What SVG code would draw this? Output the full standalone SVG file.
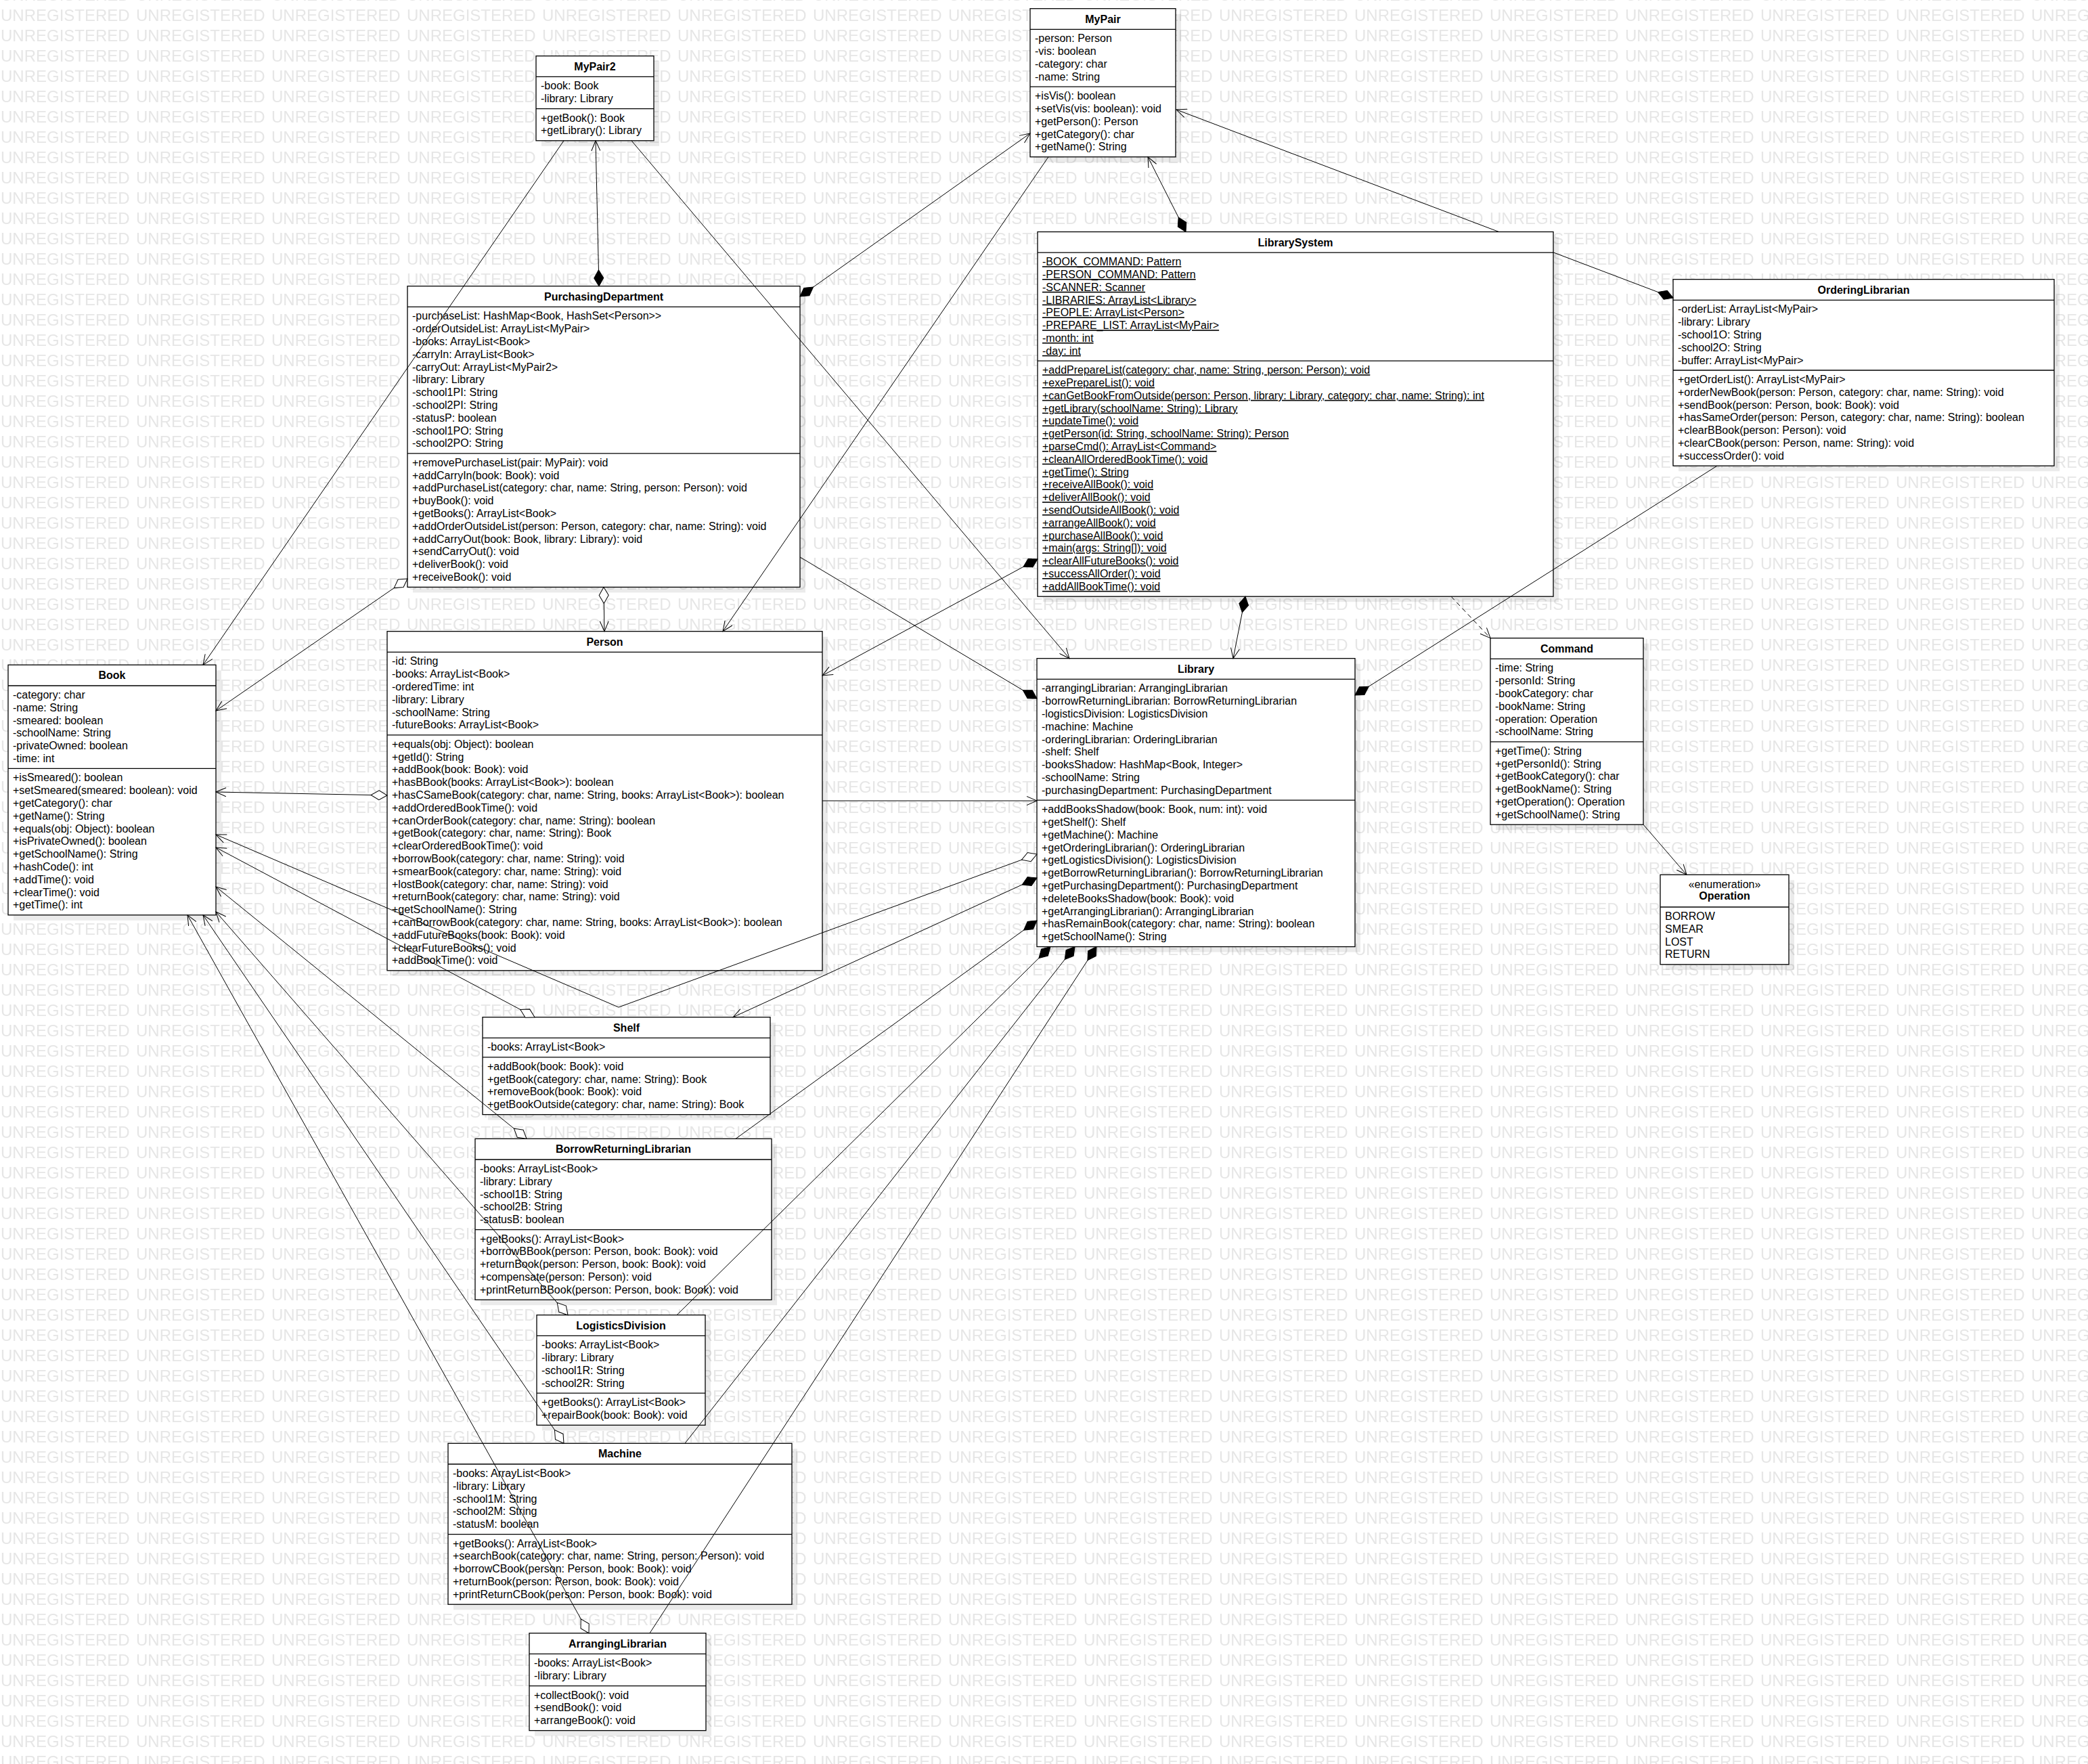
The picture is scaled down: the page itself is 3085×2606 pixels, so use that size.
<svg xmlns="http://www.w3.org/2000/svg" width="3085" height="2606" viewBox="0 0 3085 2606">
<style>
.box{fill:#fff;stroke:#000;stroke-width:1.3}
.sh{fill:#000;fill-opacity:0.08}
.dv{fill:none;stroke:#000;stroke-width:1.3}
.t{font-family:"Liberation Sans",Arial,sans-serif;font-size:16px;fill:#000}
.n{font-weight:bold;text-anchor:middle}
.m{text-anchor:middle}
.u{text-decoration:underline}
.c{fill:none;stroke:#000;stroke-width:1}
.d{stroke-dasharray:7 5}
</style>
<defs>
<pattern id="wm" patternUnits="userSpaceOnUse" x="0" y="1" width="200" height="30"><text x="1" y="30" font-family="Liberation Sans, Arial, sans-serif" font-size="24" fill="#e6e6e6">UNREGISTERED</text></pattern>
<marker id="ar" viewBox="0 0 17 14" refX="16" refY="7" markerWidth="17" markerHeight="14" orient="auto" markerUnits="userSpaceOnUse"><path d="M1,0.5 L16,7 L1,13.5" fill="none" stroke="#000" stroke-width="1"/></marker>
<marker id="df" viewBox="-1 -1 27 16" refX="0" refY="7" markerWidth="27" markerHeight="16" orient="auto" markerUnits="userSpaceOnUse"><path d="M0,7 L12,0 L24,7 L12,14 Z" fill="#000" stroke="#000" stroke-width="1"/></marker>
<marker id="dh" viewBox="-1 -1 27 16" refX="0" refY="7" markerWidth="27" markerHeight="16" orient="auto" markerUnits="userSpaceOnUse"><path d="M0,7 L12,0 L24,7 L12,14 Z" fill="#fff" stroke="#000" stroke-width="1"/></marker>
</defs>
<rect width="3085" height="2606" fill="#fff"/>
<rect width="3085" height="2606" fill="url(#wm)"/>

<g id="MyPair2">
<rect class="sh" x="800" y="90.7" width="174" height="125.1"/>
<rect class="box" x="792" y="82.7" width="174" height="125.1"/>
<path class="dv" d="M792,113.4H966M792,160.6H966"/>
<text class="t n" x="879" y="103.7">MyPair2</text>
<text class="t"><tspan x="799" y="132.4">-book: Book</tspan><tspan x="799" dy="18.8">-library: Library</tspan></text>
<text class="t"><tspan x="799" y="179.6">+getBook(): Book</tspan><tspan x="799" dy="18.8">+getLibrary(): Library</tspan></text>
</g>

<g id="MyPair">
<rect class="sh" x="1530" y="20.7" width="215" height="219.1"/>
<rect class="box" x="1522" y="12.7" width="215" height="219.1"/>
<path class="dv" d="M1522,43.4H1737M1522,128.2H1737"/>
<text class="t n" x="1629.5" y="33.7">MyPair</text>
<text class="t"><tspan x="1529" y="62.4">-person: Person</tspan><tspan x="1529" dy="18.8">-vis: boolean</tspan><tspan x="1529" dy="18.8">-category: char</tspan><tspan x="1529" dy="18.8">-name: String</tspan></text>
<text class="t"><tspan x="1529" y="147.2">+isVis(): boolean</tspan><tspan x="1529" dy="18.8">+setVis(vis: boolean): void</tspan><tspan x="1529" dy="18.8">+getPerson(): Person</tspan><tspan x="1529" dy="18.8">+getCategory(): char</tspan><tspan x="1529" dy="18.8">+getName(): String</tspan></text>
</g>

<g id="PurchasingDepartment">
<rect class="sh" x="610" y="430.7" width="580" height="444.7"/>
<rect class="box" x="602" y="422.7" width="580" height="444.7"/>
<path class="dv" d="M602,453.4H1182M602,669.8H1182"/>
<text class="t n" x="892" y="443.7">PurchasingDepartment</text>
<text class="t"><tspan x="609" y="472.4">-purchaseList: HashMap&lt;Book, HashSet&lt;Person&gt;&gt;</tspan><tspan x="609" dy="18.8">-orderOutsideList: ArrayList&lt;MyPair&gt;</tspan><tspan x="609" dy="18.8">-books: ArrayList&lt;Book&gt;</tspan><tspan x="609" dy="18.8">-carryIn: ArrayList&lt;Book&gt;</tspan><tspan x="609" dy="18.8">-carryOut: ArrayList&lt;MyPair2&gt;</tspan><tspan x="609" dy="18.8">-library: Library</tspan><tspan x="609" dy="18.8">-school1PI: String</tspan><tspan x="609" dy="18.8">-school2PI: String</tspan><tspan x="609" dy="18.8">-statusP: boolean</tspan><tspan x="609" dy="18.8">-school1PO: String</tspan><tspan x="609" dy="18.8">-school2PO: String</tspan></text>
<text class="t"><tspan x="609" y="688.8">+removePurchaseList(pair: MyPair): void</tspan><tspan x="609" dy="18.8">+addCarryIn(book: Book): void</tspan><tspan x="609" dy="18.8">+addPurchaseList(category: char, name: String, person: Person): void</tspan><tspan x="609" dy="18.8">+buyBook(): void</tspan><tspan x="609" dy="18.8">+getBooks(): ArrayList&lt;Book&gt;</tspan><tspan x="609" dy="18.8">+addOrderOutsideList(person: Person, category: char, name: String): void</tspan><tspan x="609" dy="18.8">+addCarryOut(book: Book, library: Library): void</tspan><tspan x="609" dy="18.8">+sendCarryOut(): void</tspan><tspan x="609" dy="18.8">+deliverBook(): void</tspan><tspan x="609" dy="18.8">+receiveBook(): void</tspan></text>
</g>

<g id="LibrarySystem">
<rect class="sh" x="1541" y="350.5" width="762" height="538.7"/>
<rect class="box" x="1533" y="342.5" width="762" height="538.7"/>
<path class="dv" d="M1533,373.2H2295M1533,533.2H2295"/>
<text class="t n" x="1914" y="363.5">LibrarySystem</text>
<text class="t u"><tspan x="1540" y="392.2">-BOOK_COMMAND: Pattern</tspan><tspan x="1540" dy="18.8">-PERSON_COMMAND: Pattern</tspan><tspan x="1540" dy="18.8">-SCANNER: Scanner</tspan><tspan x="1540" dy="18.8">-LIBRARIES: ArrayList&lt;Library&gt;</tspan><tspan x="1540" dy="18.8">-PEOPLE: ArrayList&lt;Person&gt;</tspan><tspan x="1540" dy="18.8">-PREPARE_LIST: ArrayList&lt;MyPair&gt;</tspan><tspan x="1540" dy="18.8">-month: int</tspan><tspan x="1540" dy="18.8">-day: int</tspan></text>
<text class="t u"><tspan x="1540" y="552.2">+addPrepareList(category: char, name: String, person: Person): void</tspan><tspan x="1540" dy="18.8">+exePrepareList(): void</tspan><tspan x="1540" dy="18.8">+canGetBookFromOutside(person: Person, library: Library, category: char, name: String): int</tspan><tspan x="1540" dy="18.8">+getLibrary(schoolName: String): Library</tspan><tspan x="1540" dy="18.8">+updateTime(): void</tspan><tspan x="1540" dy="18.8">+getPerson(id: String, schoolName: String): Person</tspan><tspan x="1540" dy="18.8">+parseCmd(): ArrayList&lt;Command&gt;</tspan><tspan x="1540" dy="18.8">+cleanAllOrderedBookTime(): void</tspan><tspan x="1540" dy="18.8">+getTime(): String</tspan><tspan x="1540" dy="18.8">+receiveAllBook(): void</tspan><tspan x="1540" dy="18.8">+deliverAllBook(): void</tspan><tspan x="1540" dy="18.8">+sendOutsideAllBook(): void</tspan><tspan x="1540" dy="18.8">+arrangeAllBook(): void</tspan><tspan x="1540" dy="18.8">+purchaseAllBook(): void</tspan><tspan x="1540" dy="18.8">+main(args: String[]): void</tspan><tspan x="1540" dy="18.8">+clearAllFutureBooks(): void</tspan><tspan x="1540" dy="18.8">+successAllOrder(): void</tspan><tspan x="1540" dy="18.8">+addAllBookTime(): void</tspan></text>
</g>

<g id="OrderingLibrarian">
<rect class="sh" x="2480" y="420.7" width="563" height="275.5"/>
<rect class="box" x="2472" y="412.7" width="563" height="275.5"/>
<path class="dv" d="M2472,443.4H3035M2472,547H3035"/>
<text class="t n" x="2753.5" y="433.7">OrderingLibrarian</text>
<text class="t"><tspan x="2479" y="462.4">-orderList: ArrayList&lt;MyPair&gt;</tspan><tspan x="2479" dy="18.8">-library: Library</tspan><tspan x="2479" dy="18.8">-school1O: String</tspan><tspan x="2479" dy="18.8">-school2O: String</tspan><tspan x="2479" dy="18.8">-buffer: ArrayList&lt;MyPair&gt;</tspan></text>
<text class="t"><tspan x="2479" y="566">+getOrderList(): ArrayList&lt;MyPair&gt;</tspan><tspan x="2479" dy="18.8">+orderNewBook(person: Person, category: char, name: String): void</tspan><tspan x="2479" dy="18.8">+sendBook(person: Person, book: Book): void</tspan><tspan x="2479" dy="18.8">+hasSameOrder(person: Person, category: char, name: String): boolean</tspan><tspan x="2479" dy="18.8">+clearBBook(person: Person): void</tspan><tspan x="2479" dy="18.8">+clearCBook(person: Person, name: String): void</tspan><tspan x="2479" dy="18.8">+successOrder(): void</tspan></text>
</g>

<g id="Book">
<rect class="sh" x="20" y="990.3" width="307" height="369.5"/>
<rect class="box" x="12" y="982.3" width="307" height="369.5"/>
<path class="dv" d="M12,1013H319M12,1135.4H319"/>
<text class="t n" x="165.5" y="1003.3">Book</text>
<text class="t"><tspan x="19" y="1032">-category: char</tspan><tspan x="19" dy="18.8">-name: String</tspan><tspan x="19" dy="18.8">-smeared: boolean</tspan><tspan x="19" dy="18.8">-schoolName: String</tspan><tspan x="19" dy="18.8">-privateOwned: boolean</tspan><tspan x="19" dy="18.8">-time: int</tspan></text>
<text class="t"><tspan x="19" y="1154.4">+isSmeared(): boolean</tspan><tspan x="19" dy="18.8">+setSmeared(smeared: boolean): void</tspan><tspan x="19" dy="18.8">+getCategory(): char</tspan><tspan x="19" dy="18.8">+getName(): String</tspan><tspan x="19" dy="18.8">+equals(obj: Object): boolean</tspan><tspan x="19" dy="18.8">+isPrivateOwned(): boolean</tspan><tspan x="19" dy="18.8">+getSchoolName(): String</tspan><tspan x="19" dy="18.8">+hashCode(): int</tspan><tspan x="19" dy="18.8">+addTime(): void</tspan><tspan x="19" dy="18.8">+clearTime(): void</tspan><tspan x="19" dy="18.8">+getTime(): int</tspan></text>
</g>

<g id="Person">
<rect class="sh" x="580" y="940.7" width="643" height="501.1"/>
<rect class="box" x="572" y="932.7" width="643" height="501.1"/>
<path class="dv" d="M572,963.4H1215M572,1085.8H1215"/>
<text class="t n" x="893.5" y="953.7">Person</text>
<text class="t"><tspan x="579" y="982.4">-id: String</tspan><tspan x="579" dy="18.8">-books: ArrayList&lt;Book&gt;</tspan><tspan x="579" dy="18.8">-orderedTime: int</tspan><tspan x="579" dy="18.8">-library: Library</tspan><tspan x="579" dy="18.8">-schoolName: String</tspan><tspan x="579" dy="18.8">-futureBooks: ArrayList&lt;Book&gt;</tspan></text>
<text class="t"><tspan x="579" y="1104.8">+equals(obj: Object): boolean</tspan><tspan x="579" dy="18.8">+getId(): String</tspan><tspan x="579" dy="18.8">+addBook(book: Book): void</tspan><tspan x="579" dy="18.8">+hasBBook(books: ArrayList&lt;Book&gt;): boolean</tspan><tspan x="579" dy="18.8">+hasCSameBook(category: char, name: String, books: ArrayList&lt;Book&gt;): boolean</tspan><tspan x="579" dy="18.8">+addOrderedBookTime(): void</tspan><tspan x="579" dy="18.8">+canOrderBook(category: char, name: String): boolean</tspan><tspan x="579" dy="18.8">+getBook(category: char, name: String): Book</tspan><tspan x="579" dy="18.8">+clearOrderedBookTime(): void</tspan><tspan x="579" dy="18.8">+borrowBook(category: char, name: String): void</tspan><tspan x="579" dy="18.8">+smearBook(category: char, name: String): void</tspan><tspan x="579" dy="18.8">+lostBook(category: char, name: String): void</tspan><tspan x="579" dy="18.8">+returnBook(category: char, name: String): void</tspan><tspan x="579" dy="18.8">+getSchoolName(): String</tspan><tspan x="579" dy="18.8">+canBorrowBook(category: char, name: String, books: ArrayList&lt;Book&gt;): boolean</tspan><tspan x="579" dy="18.8">+addFutureBooks(book: Book): void</tspan><tspan x="579" dy="18.8">+clearFutureBooks(): void</tspan><tspan x="579" dy="18.8">+addBookTime(): void</tspan></text>
</g>

<g id="Library">
<rect class="sh" x="1540" y="980.7" width="470" height="425.9"/>
<rect class="box" x="1532" y="972.7" width="470" height="425.9"/>
<path class="dv" d="M1532,1003.4H2002M1532,1182.2H2002"/>
<text class="t n" x="1767" y="993.7">Library</text>
<text class="t"><tspan x="1539" y="1022.4">-arrangingLibrarian: ArrangingLibrarian</tspan><tspan x="1539" dy="18.8">-borrowReturningLibrarian: BorrowReturningLibrarian</tspan><tspan x="1539" dy="18.8">-logisticsDivision: LogisticsDivision</tspan><tspan x="1539" dy="18.8">-machine: Machine</tspan><tspan x="1539" dy="18.8">-orderingLibrarian: OrderingLibrarian</tspan><tspan x="1539" dy="18.8">-shelf: Shelf</tspan><tspan x="1539" dy="18.8">-booksShadow: HashMap&lt;Book, Integer&gt;</tspan><tspan x="1539" dy="18.8">-schoolName: String</tspan><tspan x="1539" dy="18.8">-purchasingDepartment: PurchasingDepartment</tspan></text>
<text class="t"><tspan x="1539" y="1201.2">+addBooksShadow(book: Book, num: int): void</tspan><tspan x="1539" dy="18.8">+getShelf(): Shelf</tspan><tspan x="1539" dy="18.8">+getMachine(): Machine</tspan><tspan x="1539" dy="18.8">+getOrderingLibrarian(): OrderingLibrarian</tspan><tspan x="1539" dy="18.8">+getLogisticsDivision(): LogisticsDivision</tspan><tspan x="1539" dy="18.8">+getBorrowReturningLibrarian(): BorrowReturningLibrarian</tspan><tspan x="1539" dy="18.8">+getPurchasingDepartment(): PurchasingDepartment</tspan><tspan x="1539" dy="18.8">+deleteBooksShadow(book: Book): void</tspan><tspan x="1539" dy="18.8">+getArrangingLibrarian(): ArrangingLibrarian</tspan><tspan x="1539" dy="18.8">+hasRemainBook(category: char, name: String): boolean</tspan><tspan x="1539" dy="18.8">+getSchoolName(): String</tspan></text>
</g>

<g id="Command">
<rect class="sh" x="2210" y="950.7" width="226" height="275.5"/>
<rect class="box" x="2202" y="942.7" width="226" height="275.5"/>
<path class="dv" d="M2202,973.4H2428M2202,1095.8H2428"/>
<text class="t n" x="2315" y="963.7">Command</text>
<text class="t"><tspan x="2209" y="992.4">-time: String</tspan><tspan x="2209" dy="18.8">-personId: String</tspan><tspan x="2209" dy="18.8">-bookCategory: char</tspan><tspan x="2209" dy="18.8">-bookName: String</tspan><tspan x="2209" dy="18.8">-operation: Operation</tspan><tspan x="2209" dy="18.8">-schoolName: String</tspan></text>
<text class="t"><tspan x="2209" y="1114.8">+getTime(): String</tspan><tspan x="2209" dy="18.8">+getPersonId(): String</tspan><tspan x="2209" dy="18.8">+getBookCategory(): char</tspan><tspan x="2209" dy="18.8">+getBookName(): String</tspan><tspan x="2209" dy="18.8">+getOperation(): Operation</tspan><tspan x="2209" dy="18.8">+getSchoolName(): String</tspan></text>
</g>

<g id="Operation">
<rect class="sh" x="2461" y="1300.3" width="190" height="132.5"/>
<rect class="box" x="2453" y="1292.3" width="190" height="132.5"/>
<path class="dv" d="M2453,1340H2643"/>
<text class="t m" x="2548" y="1311.5">«enumeration»</text>
<text class="t n" x="2548" y="1329">Operation</text>
<text class="t"><tspan x="2460" y="1359">BORROW</tspan><tspan x="2460" dy="18.8">SMEAR</tspan><tspan x="2460" dy="18.8">LOST</tspan><tspan x="2460" dy="18.8">RETURN</tspan></text>
</g>

<g id="Shelf">
<rect class="sh" x="721" y="1510.7" width="425" height="143.9"/>
<rect class="box" x="713" y="1502.7" width="425" height="143.9"/>
<path class="dv" d="M713,1533.4H1138M713,1561.8H1138"/>
<text class="t n" x="925.5" y="1523.7">Shelf</text>
<text class="t"><tspan x="720" y="1552.4">-books: ArrayList&lt;Book&gt;</tspan></text>
<text class="t"><tspan x="720" y="1580.8">+addBook(book: Book): void</tspan><tspan x="720" dy="18.8">+getBook(category: char, name: String): Book</tspan><tspan x="720" dy="18.8">+removeBook(book: Book): void</tspan><tspan x="720" dy="18.8">+getBookOutside(category: char, name: String): Book</tspan></text>
</g>

<g id="BorrowReturningLibrarian">
<rect class="sh" x="710" y="1690.3" width="438" height="237.9"/>
<rect class="box" x="702" y="1682.3" width="438" height="237.9"/>
<path class="dv" d="M702,1713H1140M702,1816.6H1140"/>
<text class="t n" x="921" y="1703.3">BorrowReturningLibrarian</text>
<text class="t"><tspan x="709" y="1732">-books: ArrayList&lt;Book&gt;</tspan><tspan x="709" dy="18.8">-library: Library</tspan><tspan x="709" dy="18.8">-school1B: String</tspan><tspan x="709" dy="18.8">-school2B: String</tspan><tspan x="709" dy="18.8">-statusB: boolean</tspan></text>
<text class="t"><tspan x="709" y="1835.6">+getBooks(): ArrayList&lt;Book&gt;</tspan><tspan x="709" dy="18.8">+borrowBBook(person: Person, book: Book): void</tspan><tspan x="709" dy="18.8">+returnBook(person: Person, book: Book): void</tspan><tspan x="709" dy="18.8">+compensate(person: Person): void</tspan><tspan x="709" dy="18.8">+printReturnBBook(person: Person, book: Book): void</tspan></text>
</g>

<g id="LogisticsDivision">
<rect class="sh" x="801" y="1950.7" width="249" height="162.7"/>
<rect class="box" x="793" y="1942.7" width="249" height="162.7"/>
<path class="dv" d="M793,1973.4H1042M793,2058.2H1042"/>
<text class="t n" x="917.5" y="1963.7">LogisticsDivision</text>
<text class="t"><tspan x="800" y="1992.4">-books: ArrayList&lt;Book&gt;</tspan><tspan x="800" dy="18.8">-library: Library</tspan><tspan x="800" dy="18.8">-school1R: String</tspan><tspan x="800" dy="18.8">-school2R: String</tspan></text>
<text class="t"><tspan x="800" y="2077.2">+getBooks(): ArrayList&lt;Book&gt;</tspan><tspan x="800" dy="18.8">+repairBook(book: Book): void</tspan></text>
</g>

<g id="Machine">
<rect class="sh" x="670" y="2140.3" width="508" height="237.9"/>
<rect class="box" x="662" y="2132.3" width="508" height="237.9"/>
<path class="dv" d="M662,2163H1170M662,2266.6H1170"/>
<text class="t n" x="916" y="2153.3">Machine</text>
<text class="t"><tspan x="669" y="2182">-books: ArrayList&lt;Book&gt;</tspan><tspan x="669" dy="18.8">-library: Library</tspan><tspan x="669" dy="18.8">-school1M: String</tspan><tspan x="669" dy="18.8">-school2M: String</tspan><tspan x="669" dy="18.8">-statusM: boolean</tspan></text>
<text class="t"><tspan x="669" y="2285.6">+getBooks(): ArrayList&lt;Book&gt;</tspan><tspan x="669" dy="18.8">+searchBook(category: char, name: String, person: Person): void</tspan><tspan x="669" dy="18.8">+borrowCBook(person: Person, book: Book): void</tspan><tspan x="669" dy="18.8">+returnBook(person: Person, book: Book): void</tspan><tspan x="669" dy="18.8">+printReturnCBook(person: Person, book: Book): void</tspan></text>
</g>

<g id="ArrangingLibrarian">
<rect class="sh" x="790" y="2420.7" width="261" height="143.9"/>
<rect class="box" x="782" y="2412.7" width="261" height="143.9"/>
<path class="dv" d="M782,2443.4H1043M782,2490.6H1043"/>
<text class="t n" x="912.5" y="2433.7">ArrangingLibrarian</text>
<text class="t"><tspan x="789" y="2462.4">-books: ArrayList&lt;Book&gt;</tspan><tspan x="789" dy="18.8">-library: Library</tspan></text>
<text class="t"><tspan x="789" y="2509.6">+collectBook(): void</tspan><tspan x="789" dy="18.8">+sendBook(): void</tspan><tspan x="789" dy="18.8">+arrangeBook(): void</tspan></text>
</g>

<g id="connectors">
<path class="c" d="M885,422.7 L880,207.8" marker-start="url(#df)" marker-end="url(#ar)"/>
<path class="c" d="M1182,438 L1522,197" marker-start="url(#df)" marker-end="url(#ar)"/>
<path class="c" d="M1549,231.8 L1068,932.7" marker-end="url(#ar)"/>
<path class="c" d="M1752,342.5 L1696,231.8" marker-start="url(#df)" marker-end="url(#ar)"/>
<path class="c" d="M2472,440 L2295,372.9" marker-start="url(#df)"/>
<path class="c" d="M2214.6,342.5 L1738,162" marker-end="url(#ar)"/>
<path class="c d" d="M2144,881.2 L2202,942.7" marker-end="url(#ar)"/>
<path class="c" d="M1840,881.2 L1822,972.7" marker-start="url(#df)" marker-end="url(#ar)"/>
<path class="c" d="M1533,826 L1215,998" marker-start="url(#df)" marker-end="url(#ar)"/>
<path class="c" d="M892,867.4 L893,932.7" marker-start="url(#dh)" marker-end="url(#ar)"/>
<path class="c" d="M1532,1032 L1182,823" marker-start="url(#df)"/>
<path class="c" d="M602,855 L319,1050" marker-start="url(#dh)" marker-end="url(#ar)"/>
<path class="c" d="M833,207.8 L300,982.3" marker-end="url(#ar)"/>
<path class="c" d="M933,207.8 L1580,972.7" marker-end="url(#ar)"/>
<path class="c" d="M1215,1183 L1532,1183" marker-end="url(#ar)"/>
<path class="c" d="M572,1175 L319,1170" marker-start="url(#dh)" marker-end="url(#ar)"/>
<path class="c" d="M1532,1262 L914,1488 L319,1233" marker-start="url(#dh)" marker-end="url(#ar)"/>
<path class="c" d="M790,1502.7 L319,1252" marker-start="url(#dh)" marker-end="url(#ar)"/>
<path class="c" d="M1532,1297 L1083,1502.7" marker-start="url(#df)" marker-end="url(#ar)"/>
<path class="c" d="M1532,1360 L1087,1682.3" marker-start="url(#df)"/>
<path class="c" d="M1552,1398.6 L1000,1942.7" marker-start="url(#df)"/>
<path class="c" d="M1588,1398.6 L1012,2132.3" marker-start="url(#df)"/>
<path class="c" d="M1620,1398.6 L960,2412.7" marker-start="url(#df)"/>
<path class="c" d="M2002,1027 L2537,688.2" marker-start="url(#df)"/>
<path class="c" d="M778,1682.3 L319,1310" marker-start="url(#dh)" marker-end="url(#ar)"/>
<path class="c" d="M839,1942.7 L319,1347" marker-start="url(#dh)" marker-end="url(#ar)"/>
<path class="c" d="M833,2132.3 L300,1351.8" marker-start="url(#dh)" marker-end="url(#ar)"/>
<path class="c" d="M870,2412.7 L277,1351.8" marker-start="url(#dh)" marker-end="url(#ar)"/>
<path class="c" d="M2428,1218.2 L2492,1292.3" marker-end="url(#ar)"/>
</g>
</svg>
